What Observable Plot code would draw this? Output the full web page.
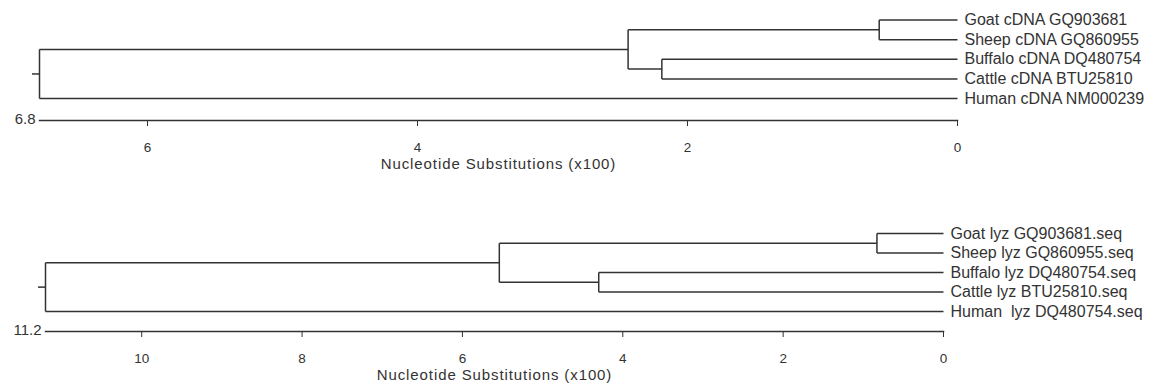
<!DOCTYPE html>
<html><head><meta charset="utf-8">
<script src="https://cdn.jsdelivr.net/npm/d3@7"></script>
<script src="https://cdn.jsdelivr.net/npm/@observablehq/plot@0.6"></script>
<style>body{margin:0;background:#fff} svg{display:block} .axtitle text{letter-spacing:0.9px} .leaf text{white-space:pre}</style>
</head><body><div id="c"></div>
<script>
const axisTitle = "Nucleotide Substitutions (x100)";

// Tree 1: cDNA
const cdnaLeaves = ["Goat cDNA GQ903681","Sheep cDNA GQ860955","Buffalo cDNA DQ480754","Cattle cDNA BTU25810","Human cDNA NM000239"];
// merges: [childA, childB, height]; leaves 0..4, internal nodes numbered 5.. in order
const cdnaMerges = [[0,1,0.58],[2,3,2.19],[5,6,2.44],[7,4,6.8]];
const cdnaTicks = [6,4,2,0];
const cdnaRoot = 6.8;

// Tree 2: lyz
const lyzLeaves = ["Goat lyz GQ903681.seq","Sheep lyz GQ860955.seq","Buffalo lyz DQ480754.seq","Cattle lyz BTU25810.seq","Human  lyz DQ480754.seq"];
const lyzMerges = [[0,1,0.83],[2,3,4.30],[5,6,5.54],[7,4,11.2]];
const lyzTicks = [10,8,6,4,2,0];
const lyzRoot = 11.2;

function tree(leaves, merges){
  const nodes = leaves.map((name,i)=>({name, h:0, y:i}));
  const segs = [];
  for (const [a,b,h] of merges){
    const A = nodes[a], B = nodes[b];
    segs.push({x1:A.h, y1:A.y, x2:h, y2:A.y});
    segs.push({x1:B.h, y1:B.y, x2:h, y2:B.y});
    segs.push({x1:h, y1:A.y, x2:h, y2:B.y});
    nodes.push({h, y:(A.y+B.y)/2});
  }
  return {leafNodes: nodes.slice(0, leaves.length), segs, root: nodes[nodes.length-1]};
}

const INK = "#333";
function dendro({leaves, merges, ticks, root, height, marginLeft, marginRight, marginBottom, yRange, tickPadding, titleDy}){
  const t = tree(leaves, merges);
  return Plot.plot({
    width: 1153, height, marginLeft, marginRight, marginTop: 0, marginBottom,
    x: {domain: [root, 0]},
    y: {domain: [0, leaves.length - 1], range: yRange, axis: null},
    style: {fontFamily: "'Liberation Sans', Arial, sans-serif", color: INK, background: "#fff", overflow: "visible"},
    marks: [
      Plot.link(t.segs, {x1: "x1", y1: "y1", x2: "x2", y2: "y2", stroke: INK, strokeWidth: 1.5}),
      Plot.ruleY([t.root], {y: "y", x1: "h", x2: "h", insetLeft: -7, insetRight: 0, stroke: INK, strokeWidth: 1.5}),
      Plot.text(t.leafNodes, {x: "h", y: "y", text: "name", textAnchor: "start", dx: 7, fontSize: 16, fill: INK, className: "leaf"}),
      Plot.frame({anchor: "bottom", stroke: INK, strokeWidth: 1.5}),
      Plot.axisX(ticks, {tickSize: 6, tickPadding, fontSize: 13.5, tickFormat: d => String(d), label: null, stroke: INK}),
      Plot.text([root], {x: d => d, frameAnchor: "bottom", textAnchor: "end", dx: -4, dy: 3, fontSize: 15, fill: INK}),
      Plot.text([axisTitle], {text: d => d, frameAnchor: "bottom", dy: titleDy, fontSize: 15, fill: INK, className: "axtitle"})
    ]
  });
}

const c = document.getElementById("c");
c.append(dendro({leaves: cdnaLeaves, merges: cdnaMerges, ticks: cdnaTicks, root: cdnaRoot,
  height: 190, marginLeft: 39, marginRight: 196, marginBottom: 70, yRange: [19.5, 98], tickPadding: 16, titleDy: 48}));
c.append(dendro({leaves: lyzLeaves, merges: lyzMerges, ticks: lyzTicks, root: lyzRoot,
  height: 197, marginLeft: 45, marginRight: 210, marginBottom: 56, yRange: [43, 121], tickPadding: 16, titleDy: 48}));
</script>
</body></html>
